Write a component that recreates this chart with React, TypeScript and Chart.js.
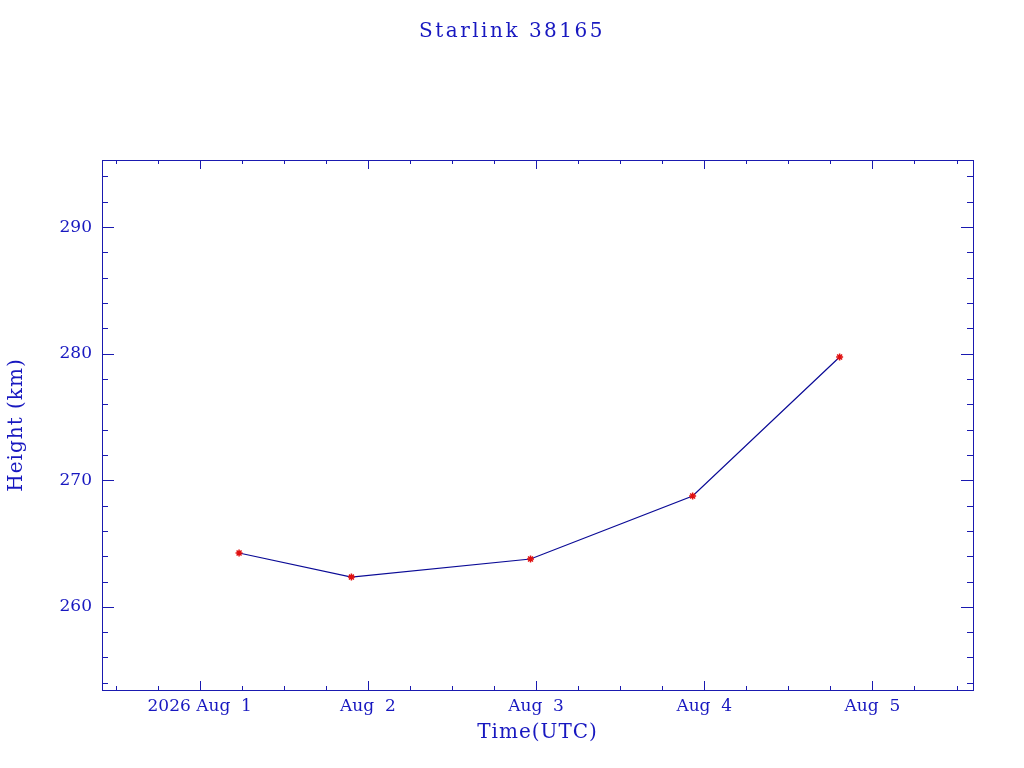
import { Chart, registerables } from 'chart.js';
import { useEffect, useRef } from 'react';

Chart.register(...registerables);

// days since 2026 Aug 1 00:00 UTC
const dayOffsets = [0.234, 0.902, 1.967, 2.931, 3.805];
const heights = [264.25, 262.35, 263.78, 268.76, 279.74];
const dayLabels = ['2026 Aug  1', 'Aug  2', 'Aug  3', 'Aug  4', 'Aug  5'];
const heightTicks = [260, 270, 280, 290];

const xMin = -0.581;
const xMax = 4.598;
const yMin = 253.43;
const yMax = 295.3;

const AXIS = '#1a1ab0';
const LINE = '#0a0a96';
const TEXT = '#1818c0';
const FONT = '"DejaVu Serif", serif';

// border box, inward ticks, titles
const frame = {
    id: 'frame',
    afterDraw(chart: any) {
        const { ctx, chartArea: a, scales } = chart;
        const x = scales.x, y = scales.y;
        ctx.save();
        ctx.strokeStyle = AXIS;
        ctx.lineWidth = 1;
        ctx.strokeRect(a.left + 0.5, a.top + 0.5, a.right - a.left, a.bottom - a.top);

        ctx.beginPath();
        for (let d = Math.ceil(xMin * 4) / 4; d <= xMax; d += 0.25) {
            const px = Math.round(x.getPixelForValue(d)) + 0.5;
            const len = Math.abs(d - Math.round(d)) < 1e-6 ? 9 : 4;
            ctx.moveTo(px, a.bottom); ctx.lineTo(px, a.bottom - len);
            ctx.moveTo(px, a.top); ctx.lineTo(px, a.top + len);
        }
        for (let v = Math.ceil(yMin / 2) * 2; v <= yMax; v += 2) {
            const py = Math.round(y.getPixelForValue(v)) + 0.5;
            const len = v % 10 === 0 ? 12 : 6;
            ctx.moveTo(a.left, py); ctx.lineTo(a.left + len, py);
            ctx.moveTo(a.right, py); ctx.lineTo(a.right - len, py);
        }
        ctx.stroke();

        ctx.fillStyle = TEXT;
        ctx.textAlign = 'center';
        ctx.textBaseline = 'alphabetic';
        (ctx as any).letterSpacing = '2.5px';
        ctx.font = '20px ' + FONT;
        ctx.fillText('Starlink 38165', 512, 37);
        (ctx as any).letterSpacing = '1px';
        ctx.fillText('Time(UTC)', (a.left + a.right) / 2, 738);
        ctx.translate(22, (a.top + a.bottom) / 2);
        ctx.rotate(-Math.PI / 2);
        ctx.fillText('Height (km)', 0, 0);
        ctx.restore();
    },
};

function App() {
    const canvasRef = useRef<HTMLCanvasElement>(null);
    const chartRef = useRef<Chart | null>(null);

    useEffect(() => {
        if (!canvasRef.current) return;
        if (chartRef.current) chartRef.current.destroy();

        chartRef.current = new Chart(canvasRef.current, {
            type: 'line',
            data: {
                datasets: [{
                    data: dayOffsets.map((d, i) => ({ x: d, y: heights[i] })),
                    borderColor: LINE,
                    borderWidth: 1.2,
                    pointStyle: 'star',
                    pointRadius: 3.5,
                    pointBorderColor: '#e01010',
                    pointBorderWidth: 1.5,
                    pointBackgroundColor: '#e01010',
                    tension: 0,
                }],
            },
            options: {
                animation: false,
                responsive: true,
                maintainAspectRatio: false,
                layout: { padding: { top: 160, right: 51, left: 0, bottom: 0 } },
                plugins: {
                    legend: { display: false },
                    title: { display: false },
                    tooltip: { enabled: false },
                },
                scales: {
                    x: {
                        type: 'linear',
                        min: xMin,
                        max: xMax,
                        afterFit: (s: any) => { s.height = 78; },
                        afterBuildTicks: (s: any) => { s.ticks = dayLabels.map((_, i) => ({ value: i })); },
                        grid: { display: false },
                        border: { display: false },
                        ticks: {
                            autoSkip: false,
                            maxRotation: 0,
                            padding: -2,
                            color: TEXT,
                            font: { family: FONT, size: 17 },
                            callback: (v: any) => dayLabels[Math.round(Number(v))] ?? '',
                        },
                    },
                    y: {
                        type: 'linear',
                        min: yMin,
                        max: yMax,
                        afterFit: (s: any) => { s.width = 102; },
                        afterBuildTicks: (s: any) => { s.ticks = heightTicks.map((v) => ({ value: v })); },
                        grid: { display: false },
                        border: { display: false },
                        ticks: {
                            padding: 2,
                            color: TEXT,
                            font: { family: FONT, size: 17 },
                            callback: (v: any) => String(v),
                        },
                    },
                },
            },
            plugins: [frame],
        });

        return () => {
            if (chartRef.current) {
                chartRef.current.destroy();
                chartRef.current = null;
            }
        };
    }, []);

    return (
        <div style={{ position: 'absolute', left: 0, top: 0, width: 1024, height: 768, background: '#fff' }}>
            <canvas ref={canvasRef} />
        </div>
    );
}

export default App;
